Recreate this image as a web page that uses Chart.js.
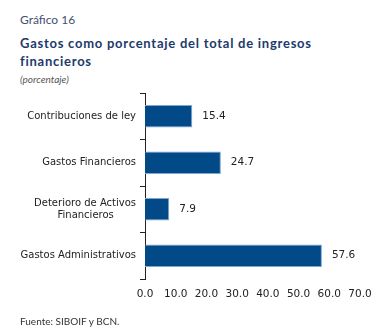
<!DOCTYPE html>
<html>
<head>
<meta charset="utf-8">
<script src="https://cdn.jsdelivr.net/npm/chart.js@4"></script>
<style>
  html, body { margin: 0; padding: 0; background: #fff; }
  #wrap { position: relative; width: 382px; height: 331px; overflow: hidden; }
  #chart { position: absolute; left: 0; top: 0; }
  .txt { position: absolute; left: 20px; white-space: nowrap; font-family: Lato, "Open Sans", sans-serif; }
  #num { top: 12px; font-size: 12px; color: #3f5173; }
  #title { top: 34px; font-size: 13px; font-weight: bold; color: #1d3a6b; letter-spacing: 0.75px; line-height: 18px; }
  #unit { top: 73px; font-size: 10px; font-style: italic; color: #555; }
  #src { top: 315px; font-size: 10px; color: #333; }
</style>
</head>
<body>
<div id="wrap">
  <div class="txt" id="num">Gráfico 16</div>
  <div class="txt" id="title">Gastos como porcentaje del total de ingresos<br>financieros</div>
  <div class="txt" id="unit">(porcentaje)</div>
  <canvas id="chart" width="382" height="331"></canvas>
  <div class="txt" id="src">Fuente: SIBOIF y BCN.</div>
</div>
<script>
// Categories (top to bottom) and their share of financial income, in percent
const categories = [
  "Contribuciones de ley",
  "Gastos Financieros",
  ["Deterioro de Activos", "Financieros       "],
  "Gastos Administrativos"
];
const values = [15.4, 24.7, 7.9, 57.6];
const xTicks = [0, 10, 20, 30, 40, 50, 60, 70];

// Writes each bar's value just past its end
const valueLabels = {
  id: "valueLabels",
  afterDatasetsDraw(chart) {
    const ctx = chart.ctx;
    const meta = chart.getDatasetMeta(0);
    ctx.save();
    ctx.font = "10.5px 'DejaVu Sans'";
    ctx.fillStyle = "#222";
    ctx.textAlign = "left";
    ctx.textBaseline = "middle";
    meta.data.forEach((bar, i) => {
      ctx.fillText(values[i].toFixed(1), bar.x + 10, bar.y);
    });
    ctx.restore();
  }
};

new Chart(document.getElementById("chart"), {
  type: "bar",
  data: {
    labels: categories,
    datasets: [{
      data: values,
      backgroundColor: "#014a87",
      borderColor: "#7fa6cf",
      borderWidth: 1,
      borderSkipped: "left",
      categoryPercentage: 1,
      barPercentage: 0.48
    }]
  },
  options: {
    indexAxis: "y",
    responsive: false,
    animation: false,
    devicePixelRatio: 1,
    layout: { padding: { top: 93, right: 22, bottom: 0, left: 0 } },
    plugins: { legend: { display: false }, tooltip: { enabled: false } },
    scales: {
      x: {
        min: 0,
        max: 70,
        afterBuildTicks(scale) { scale.ticks = xTicks.map(v => ({ value: v })); },
        afterFit(scale) { scale.height = 52; },
        grid: { display: false, drawTicks: false },
        border: { display: false },
        ticks: {
          padding: 9,
          color: "#222",
          font: { family: "DejaVu Sans", size: 10.5 },
          callback: v => Number(v).toFixed(1),
          maxRotation: 0,
          autoSkip: false
        }
      },
      y: {
        afterFit(scale) { scale.width = 145; },
        grid: { drawOnChartArea: false, color: "#222", tickLength: 5, offset: true },
        border: { display: true, color: "#222", width: 1 },
        ticks: {
          padding: 4,
          color: "#222",
          font: { family: "DejaVu Sans", size: 10 }
        }
      }
    }
  },
  plugins: [valueLabels]
});
</script>
</body>
</html>
